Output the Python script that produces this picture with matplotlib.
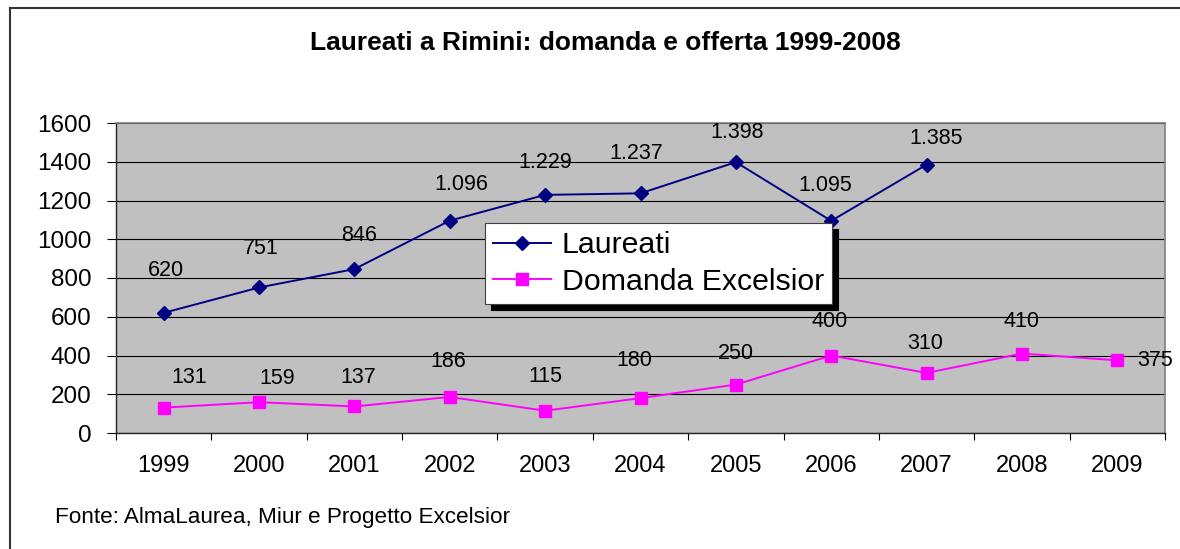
import matplotlib
matplotlib.use("Agg")
import matplotlib.pyplot as plt
from matplotlib.lines import Line2D

plt.rcParams['font.family'] = ['Liberation Sans', 'DejaVu Sans']

# dati
anni = ['1999', '2000', '2001', '2002', '2003', '2004', '2005', '2006', '2007', '2008', '2009']
laureati = [620, 751, 846, 1096, 1229, 1237, 1398, 1095, 1385]
domanda = [131, 159, 137, 186, 115, 180, 250, 400, 310, 410, 375]

# posizione etichette (offset in pixel, come in Excel)
off_laureati = [(2, 42), (2, 39), (5, 34), (12, 36), (0, 32), (-4, 40), (1, 30), (-6, 35), (10, 26)]
off_domanda = [(26, 30), (18, 24), (4, 29), (-2, 35), (0, 34), (-6, 38), (0, 31), (-2, 34), (-1, 29), (0, 32), (38, 0)]


def fmt(v):
    # separatore delle migliaia all'italiana
    return f"{v:,}".replace(',', '.')


W, H = 1180, 549
fig = plt.figure(figsize=(W / 100, H / 100), dpi=100)
ax = fig.add_axes([116 / W, 1 - 433 / H, (1165 - 116) / W, (433 - 123) / H])
ax.set_facecolor('#C0C0C0')

x_l = list(range(len(laureati)))
x_d = list(range(len(domanda)))

ax.plot(x_l, laureati, color='#000080', lw=1.4, marker='D', ms=7.5,
        label='Laureati', zorder=3, clip_on=False)
ax.plot(x_d, domanda, color='#FF00FF', lw=1.4, marker='s', ms=9,
        label='Domanda Excelsior', zorder=3, clip_on=False)

px = 0.72  # pixel -> punti
for x, v, (dx, dy) in zip(x_l, laureati, off_laureati):
    ax.annotate(fmt(v), (x, v), xytext=(dx * px, dy * px), textcoords='offset points',
                ha='center', va='center', fontsize=15.5, zorder=4, annotation_clip=False)
for x, v, (dx, dy) in zip(x_d, domanda, off_domanda):
    ax.annotate(fmt(v), (x, v), xytext=(dx * px, dy * px), textcoords='offset points',
                ha='center', va='center', fontsize=15.5, zorder=4, annotation_clip=False)

ax.set_xlim(-0.5, len(anni) - 0.5)
ax.set_ylim(0, 1600)
ax.set_yticks(range(0, 1601, 200))
ax.set_xticks(x_d)
ax.set_xticklabels(anni)
ax.set_xticks([i - 0.5 for i in range(len(anni) + 1)], minor=True)

ax.grid(axis='y', color='black', lw=0.8)
ax.set_axisbelow(True)
ax.tick_params(axis='y', direction='out', length=6.5, width=0.8, pad=11, labelsize=17.5)
ax.tick_params(axis='x', which='major', length=0, pad=16, labelsize=17)
ax.tick_params(axis='x', which='minor', direction='out', length=5, width=0.8)

for s in ['top', 'right']:
    ax.spines[s].set_color('#808080')
    ax.spines[s].set_linewidth(1.2)
for s in ['left', 'bottom']:
    ax.spines[s].set_color('#222222')
    ax.spines[s].set_linewidth(1.0)

leg = ax.legend(loc='upper left', bbox_to_anchor=(485 / W, 1 - 223 / H),
                bbox_transform=fig.transFigure, fontsize=21.8, frameon=True,
                fancybox=False, edgecolor='#404040', facecolor='white', framealpha=1,
                shadow={'color': 'black', 'alpha': 1, 'ox': 4, 'oy': -4},
                handlelength=1.9, handletextpad=0.35, labelspacing=0.28,
                borderpad=0.28, borderaxespad=0)
leg.get_frame().set_linewidth(0.8)
leg.set_zorder(5)

fig.text(605 / W, 1 - 43 / H, 'Laureati a Rimini: domanda e offerta 1999-2008',
         ha='center', va='center', fontsize=19, fontweight='bold')
fig.text(55 / W, 1 - 517 / H, 'Fonte: AlmaLaurea, Miur e Progetto Excelsior',
         ha='left', va='center', fontsize=16.2)

# cornice del grafico
fig.add_artist(Line2D([10 / W, 10 / W], [0, 1 - 8 / H], color='#333333', lw=1.5,
                      transform=fig.transFigure))
fig.add_artist(Line2D([10 / W, 1], [1 - 8 / H, 1 - 8 / H], color='#333333', lw=1.5,
                      transform=fig.transFigure))

fig.savefig('out.png', dpi=100, facecolor='white')
